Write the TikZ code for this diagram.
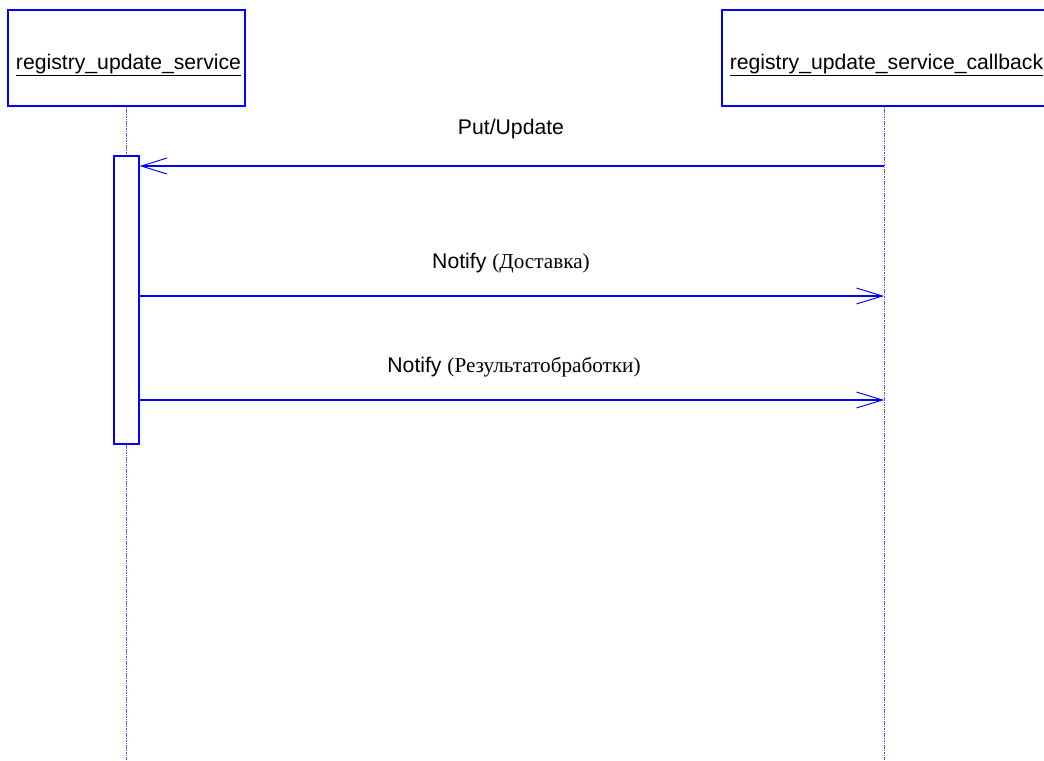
\documentclass[tikz,border=0pt]{standalone}
\usepackage{fontspec}
\setmainfont{Liberation Sans}
\newfontfamily\rufont{Liberation Serif}
\definecolor{umlblue}{HTML}{0000FF}
\definecolor{lifeblue}{HTML}{5050FF}
\usetikzlibrary{arrows.meta,positioning}

\begin{document}
\begin{tikzpicture}[x=0.75pt,y=-0.75pt,
  objbox/.style={draw=umlblue, line width=0.85pt, minimum height=72pt, inner sep=0pt},
  objname/.style={anchor=base, inner sep=0pt, font=\fontsize{15.9}{19}\selectfont},
  actbox/.style={draw=umlblue, fill=white, line width=0.85pt, minimum width=18.75pt,
              minimum height=216pt, inner sep=0pt},
  life/.style={draw=lifeblue, line width=0.6pt, dash pattern=on 1.2pt off 0.6pt},
  msg/.style={draw=umlblue, line width=0.8pt,
              -{Straight Barb[length=19.5pt, width=12pt, line width=0.7pt]}},
  lbl/.style={anchor=base, inner sep=0pt, font=\fontsize{15.9}{19}\selectfont}
]
  \useasboundingbox (0,0) rectangle (1044,760);
  \clip (0,0) rectangle (1044,760);

  % objects
  \node[objbox, minimum width=177.75pt] (svc) at (126.5,58) {};
  \node[objname] (svcname) at (128.5,69) {\underline{registry\_update\_service}};
  \node[objbox, minimum width=246.75pt] (cbk) at (886.5,58) {};
  \node[objname] (cbkname) at (886.5,69) {\underline{registry\_update\_service\_callback}};

  % lifelines
  \coordinate (svcend) at (126.5,760);
  \coordinate (cbkend) at (884,760);
  \draw[life] (svc.south -| svcend) -- (svcend);
  \draw[life] (cbk.south -| cbkend) -- (cbkend);

  % activation
  \node[actbox] (svcact) at (126.5,300) {};

  % messages
  \coordinate (put)  at (884,166);
  \coordinate (ntf1) at (884,296);
  \coordinate (ntf2) at (884,400);
  \draw[msg] (put) -- (put -| svcact.east);
  \draw[msg] (ntf1 -| svcact.east) -- (ntf1);
  \draw[msg] (ntf2 -| svcact.east) -- (ntf2);

  \node[lbl] (putlbl)  at (511,134) {Put/Update};
  \node[lbl] (ntf1lbl) at (511,268) {Notify {\rufont(Доставка)}};
  \node[lbl] (ntf2lbl) at (514,372) {Notify {\rufont(Результатобработки)}};
\end{tikzpicture}
\end{document}
